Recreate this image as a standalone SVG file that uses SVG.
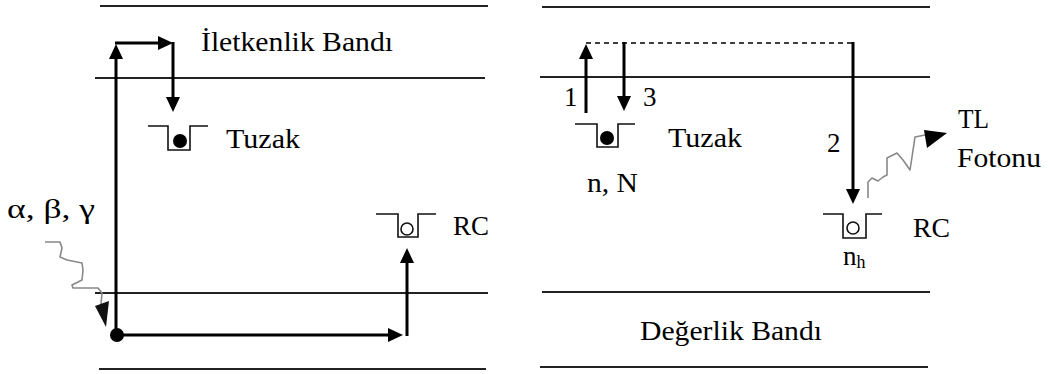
<svg xmlns="http://www.w3.org/2000/svg" width="1049" height="374" viewBox="0 0 1049 374">
<style>
.band{stroke:#222;stroke-width:1.8;fill:none}
.arr{stroke:#000;stroke-width:3;fill:none}
.trap{stroke:#111;stroke-width:1.6;fill:none}
.wave{stroke:#888;stroke-width:1.6;fill:none;stroke-linejoin:round}
.t{font-family:"Liberation Serif","Times New Roman",serif;font-size:27px;fill:#000}
</style>
<defs>
<marker id="ah" markerUnits="userSpaceOnUse" markerWidth="18" markerHeight="18" viewBox="0 -9 18 18" refX="1" refY="0" orient="auto">
<path d="M0,-7 L15,0 L0,7 Z" fill="#000"/>
</marker>
</defs>
<rect width="1049" height="374" fill="#fff"/>
<g id="bands-left">
<line class="band" x1="100" y1="6" x2="488" y2="6"/>
<line class="band" x1="95" y1="78" x2="485" y2="78"/>
<line class="band" x1="95" y1="293" x2="488" y2="293"/>
<line class="band" x1="99" y1="369" x2="486" y2="369"/>
</g>
<g id="bands-right">
<line class="band" x1="542" y1="7" x2="930" y2="7"/>
<line class="band" x1="540" y1="77" x2="930" y2="77"/>
<line class="band" x1="542" y1="292" x2="930" y2="292"/>
<line class="band" x1="540" y1="367" x2="928" y2="367"/>
</g>
<g id="connectors">
<line class="arr" x1="116" y1="335" x2="116" y2="58" marker-end="url(#ah)"/>
<line class="arr" x1="115" y1="43" x2="159" y2="43" marker-end="url(#ah)"/>
<line class="arr" x1="173" y1="42" x2="173" y2="98" marker-end="url(#ah)"/>
<line class="arr" x1="117" y1="335" x2="389" y2="335" marker-end="url(#ah)"/>
<line class="arr" x1="407" y1="336" x2="407" y2="262" marker-end="url(#ah)"/>
<line class="arr" x1="586" y1="113" x2="586" y2="58" marker-end="url(#ah)"/>
<line class="arr" x1="624" y1="42" x2="624" y2="97" marker-end="url(#ah)"/>
<line x1="586" y1="43" x2="853" y2="43" stroke="#000" stroke-width="1.5" stroke-dasharray="5 4"/>
<line class="arr" x1="853" y1="42" x2="853" y2="190" marker-end="url(#ah)"/>
<polyline class="wave" points="45,242 60,242 62,248 60,257 67,260 82,263 83,270 82,280 72,285 73,288 98,288 102,293 101,304"/>
<polygon points="95,306 109,301 106,327" fill="#111"/>
<polyline class="wave" points="868,198 868,182 872,178 878,181 883,177 887,175 887,158 897,153 903,160 910,170 912,157 915,137 925,135"/>
<polygon points="924,130 947,133 927,148" fill="#000"/>
</g>
<g id="trap-left">
<path class="trap" d="M148,126 H168 V150 H190 V126 H208"/>
<circle cx="180" cy="141" r="7" fill="#000"/>
</g>
<g id="rc-left">
<path class="trap" d="M376,214 H398 V237 H418 V214 H436"/>
<circle cx="407" cy="229" r="6" fill="#fff" stroke="#111" stroke-width="1.6"/>
</g>
<g id="electron-start">
<circle cx="117" cy="335" r="7" fill="#000"/>
</g>
<g id="trap-right">
<path class="trap" d="M575,124 H597 V147 H618 V124 H635"/>
<circle cx="607" cy="138" r="7" fill="#000"/>
</g>
<g id="rc-right">
<path class="trap" d="M823,214 H843 V238 H866 V214 H882"/>
<circle cx="853" cy="228" r="6" fill="#fff" stroke="#111" stroke-width="1.6"/>
</g>
<g id="labels">
<text class="t" x="201" y="51" textLength="192" lengthAdjust="spacingAndGlyphs">İletkenlik Bandı</text>
<text class="t" x="226" y="148" textLength="74" lengthAdjust="spacingAndGlyphs">Tuzak</text>
<text class="t" x="7" y="218" textLength="88" lengthAdjust="spacingAndGlyphs">α, β, γ</text>
<text class="t" x="453" y="235" textLength="36" lengthAdjust="spacingAndGlyphs">RC</text>
<text class="t" x="564" y="106">1</text>
<text class="t" x="643" y="106">3</text>
<text class="t" x="668" y="147" textLength="74" lengthAdjust="spacingAndGlyphs">Tuzak</text>
<text class="t" x="827" y="152">2</text>
<text class="t" x="587" y="192" textLength="51" lengthAdjust="spacingAndGlyphs">n, N</text>
<text class="t" x="913" y="237" textLength="37" lengthAdjust="spacingAndGlyphs">RC</text>
<text class="t" x="843" y="265">n<tspan font-size="18" dy="3">h</tspan></text>
<text class="t" x="958" y="128" textLength="31" lengthAdjust="spacingAndGlyphs">TL</text>
<text class="t" x="957" y="167" textLength="84" lengthAdjust="spacingAndGlyphs">Fotonu</text>
<text class="t" x="640" y="340" textLength="182" lengthAdjust="spacingAndGlyphs">Değerlik Bandı</text>
</g>
</svg>
